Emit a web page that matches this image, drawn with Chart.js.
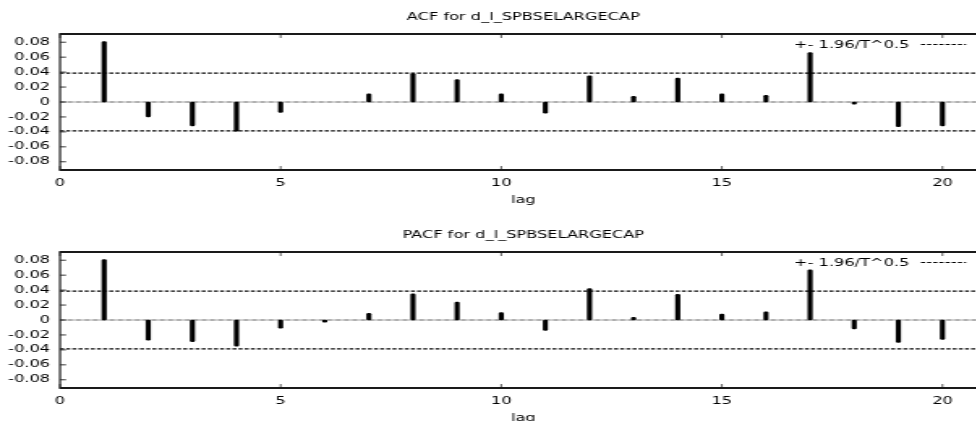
<!DOCTYPE html>
<html>
<head>
<meta charset="utf-8">
<script src="https://cdn.jsdelivr.net/npm/chart.js@4/dist/chart.umd.min.js"></script>
<style>
  html, body { margin: 0; padding: 0; background: #fff; overflow: hidden; width: 976px; height: 421px; }
  .wrap { position: absolute; left: 0; width: 609px; height: 210px; transform: scaleX(1.62); transform-origin: 0 0; }
  #w1 { top: 0; }
  #w2 { top: 218px; }
</style>
</head>
<body>
<div class="wrap" id="w1"><canvas id="c1" width="609" height="210"></canvas></div>
<div class="wrap" id="w2"><canvas id="c2" width="609" height="210"></canvas></div>
<script>
// ---- data ----
const lags = [1, 2, 3, 4, 5, 6, 7, 8, 9, 10, 11, 12, 13, 14, 15, 16, 17, 18, 19, 20];
const acfValues = [0.081, -0.020, -0.032, -0.039, -0.014, 0.000, 0.011, 0.038, 0.030, 0.011,
                   -0.015, 0.035, 0.0075, 0.032, 0.011, 0.009, 0.066, -0.003, -0.033, -0.032];
const pacfValues = [0.081, -0.027, -0.029, -0.035, -0.011, -0.003, 0.009, 0.035, 0.024, 0.010,
                    -0.014, 0.042, 0.0035, 0.0345, 0.008, 0.011, 0.067, -0.012, -0.030, -0.026];
const bandValue = 0.0387;
const xTickValues = [0, 5, 10, 15, 20];
const yTickValues = [-0.08, -0.06, -0.04, -0.02, 0, 0.02, 0.04, 0.06, 0.08];
const yTickLabels = ['-0.08', '-0.06', '-0.04', '-0.02', '0', '0.02', '0.04', '0.06', '0.08'];
const chartTitles = ['ACF for d_l_SPBSELARGECAP', 'PACF for d_l_SPBSELARGECAP'];
const xAxisTitle = 'lag';
const legendText = '+- 1.96/T^0.5';

Chart.defaults.font.family = '"DejaVu Sans", Verdana, sans-serif';
Chart.defaults.font.size = 10;
Chart.defaults.color = '#000';

const FONT = { family: '"DejaVu Sans", Verdana, sans-serif', size: 10 };

const framePlugin = {
  id: 'frame',
  afterDatasetsDraw(chart) {
    const { ctx, chartArea: { left, right, top, bottom }, scales: { x, y } } = chart;
    ctx.save();
    ctx.strokeStyle = '#1a1a1a';
    ctx.setLineDash([]);
    ctx.lineWidth = 1.8;
    ctx.beginPath();
    ctx.moveTo(left, top); ctx.lineTo(right, top);
    ctx.moveTo(left, bottom); ctx.lineTo(right, bottom);
    ctx.stroke();
    ctx.lineWidth = 1.2;
    ctx.beginPath();
    ctx.moveTo(left, top - 0.9); ctx.lineTo(left, bottom + 0.9);
    ctx.stroke();
    ctx.lineWidth = 0.9;
    ctx.beginPath();
    y.ticks.forEach(t => {
      const py = y.getPixelForValue(t.value);
      ctx.moveTo(left, py); ctx.lineTo(left + 3.7, py);
    });
    ctx.stroke();
    ctx.lineWidth = 0.7;
    ctx.beginPath();
    x.ticks.forEach(t => {
      const px = x.getPixelForValue(t.value);
      ctx.moveTo(px, bottom); ctx.lineTo(px, bottom - 4);
      ctx.moveTo(px, top); ctx.lineTo(px, top + 4);
    });
    ctx.stroke();
    ctx.restore();
  }
};

const keyPlugin = {
  id: 'keyText',
  afterDatasetsDraw(chart) {
    const { ctx, chartArea: { top } } = chart;
    ctx.save();
    ctx.font = '10px "DejaVu Sans", Verdana, sans-serif';
    ctx.fillStyle = '#000';
    ctx.textAlign = 'left';
    ctx.textBaseline = 'middle';
    ctx.fillText(legendText, 490.1, top + 11);
    ctx.strokeStyle = '#000';
    ctx.lineWidth = 1.2;
    ctx.setLineDash([2.5, 1.3]);
    ctx.beginPath();
    ctx.moveTo(568.5, top + 10.5);
    ctx.lineTo(596.3, top + 10.5);
    ctx.stroke();
    ctx.restore();
  }
};

function makeChart(id, values, title) {
  const bars = lags.map((l, i) => ({ x: l, y: values[i] }));
  const lineAt = v => [{ x: 0, y: v }, { x: 21, y: v }];
  return new Chart(document.getElementById(id), {
    type: 'bar',
    data: {
      datasets: [
        {
          type: 'bar', data: bars, borderWidth: 0,
          backgroundColor: c => (c.raw && c.raw.y === 0) ? 'rgba(0,0,0,0)' : '#000',
          barThickness: 2.5, borderRadius: 1.25, borderSkipped: false, order: 0
        },
        {
          type: 'line', data: lineAt(bandValue), borderColor: '#000', borderWidth: 1.2,
          borderDash: [2.5, 1.3], pointRadius: 0, fill: false, order: 1
        },
        {
          type: 'line', data: lineAt(-bandValue), borderColor: '#000', borderWidth: 1.2,
          borderDash: [2.5, 1.3], pointRadius: 0, fill: false, order: 1
        },
        {
          type: 'line', data: lineAt(0), borderColor: '#000', borderWidth: 1,
          borderDash: [0.62, 0.62], pointRadius: 0, fill: false, order: 1
        }
      ]
    },
    options: {
      responsive: false,
      animation: false,
      devicePixelRatio: 1,
      layout: { padding: 0 },
      plugins: {
        legend: { display: false },
        tooltip: { enabled: false },
        title: {
          display: true, text: title, fullSize: false, color: '#000',
          font: { ...FONT, weight: 'normal' }, padding: { top: 11, bottom: 11 }
        }
      },
      scales: {
        x: {
          type: 'linear', min: 0, max: 21, offset: false,
          grid: { display: false, drawTicks: false, offset: false },
          border: { display: false },
          ticks: { padding: 7, font: FONT, color: '#000', maxRotation: 0, autoSkip: false },
          afterBuildTicks: s => { s.ticks = xTickValues.map(v => ({ value: v })); },
          afterFit: s => { s.height = 40; },
          title: { display: true, text: xAxisTitle, font: FONT, color: '#000', padding: { top: 0, bottom: 4 } }
        },
        y: {
          type: 'linear', min: -0.091, max: 0.091,
          grid: { display: false, drawTicks: false },
          border: { display: false },
          ticks: { padding: 6.1, font: FONT, color: '#000', callback: (v, i) => yTickLabels[i] },
          afterBuildTicks: s => { s.ticks = yTickValues.map(v => ({ value: v })); },
          afterFit: s => { s.width = 37.04; }
        }
      }
    },
    plugins: [framePlugin, keyPlugin]
  });
}

makeChart('c1', acfValues, chartTitles[0]);
makeChart('c2', pacfValues, chartTitles[1]);
</script>
</body>
</html>
